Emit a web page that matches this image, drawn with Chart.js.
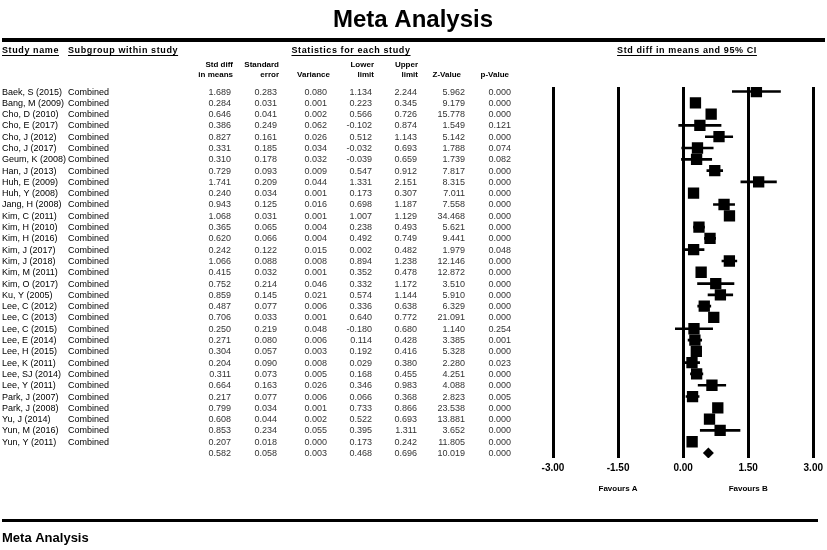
<!DOCTYPE html>
<html><head><meta charset="utf-8">
<script src="https://cdn.jsdelivr.net/npm/chart.js@4.4.1/dist/chart.umd.min.js"></script>
<style>html,body{margin:0;padding:0;background:#fff;}canvas{display:block;}</style>
</head><body>
<canvas id="c" width="827" height="550"></canvas>
<script>
const studies = ['Baek, S (2015)','Bang, M (2009)','Cho, D (2010)','Cho, E (2017)','Cho, J (2012)','Cho, J (2017)','Geum, K (2008)','Han, J (2013)','Huh, E (2009)','Huh, Y (2008)','Jang, H (2008)','Kim, C (2011)','Kim, H (2010)','Kim, H (2016)','Kim, J (2017)','Kim, J (2018)','Kim, M (2011)','Kim, O (2017)','Ku, Y (2005)','Lee, C (2012)','Lee, C (2013)','Lee, C (2015)','Lee, E (2014)','Lee, H (2015)','Lee, K (2011)','Lee, SJ (2014)','Lee, Y (2011)','Park, J (2007)','Park, J (2008)','Yu, J (2014)','Yun, M (2016)','Yun, Y (2011)'];
const subgroups = studies.map(() => 'Combined');
const stdDiff  = [1.689,0.284,0.646,0.386,0.827,0.331,0.310,0.729,1.741,0.240,0.943,1.068,0.365,0.620,0.242,1.066,0.415,0.752,0.859,0.487,0.706,0.250,0.271,0.304,0.204,0.311,0.664,0.217,0.799,0.608,0.853,0.207];
const stdErr   = [0.283,0.031,0.041,0.249,0.161,0.185,0.178,0.093,0.209,0.034,0.125,0.031,0.065,0.066,0.122,0.088,0.032,0.214,0.145,0.077,0.033,0.219,0.080,0.057,0.090,0.073,0.163,0.077,0.034,0.044,0.234,0.018];
const variance = [0.080,0.001,0.002,0.062,0.026,0.034,0.032,0.009,0.044,0.001,0.016,0.001,0.004,0.004,0.015,0.008,0.001,0.046,0.021,0.006,0.001,0.048,0.006,0.003,0.008,0.005,0.026,0.006,0.001,0.002,0.055,0.000];
const lowerLim = [1.134,0.223,0.566,-0.102,0.512,-0.032,-0.039,0.547,1.331,0.173,0.698,1.007,0.238,0.492,0.002,0.894,0.352,0.332,0.574,0.336,0.640,-0.180,0.114,0.192,0.029,0.168,0.346,0.066,0.733,0.522,0.395,0.173];
const upperLim = [2.244,0.345,0.726,0.874,1.143,0.693,0.659,0.912,2.151,0.307,1.187,1.129,0.493,0.749,0.482,1.238,0.478,1.172,1.144,0.638,0.772,0.680,0.428,0.416,0.380,0.455,0.983,0.368,0.866,0.693,1.311,0.242];
const zValue   = [5.962,9.179,15.778,1.549,5.142,1.788,1.739,7.817,8.315,7.011,7.558,34.468,5.621,9.441,1.979,12.146,12.872,3.510,5.910,6.329,21.091,1.140,3.385,5.328,2.280,4.251,4.088,2.823,23.538,13.881,3.652,11.805];
const pValue   = [0.000,0.000,0.000,0.121,0.000,0.074,0.082,0.000,0.000,0.000,0.000,0.000,0.000,0.000,0.048,0.000,0.000,0.000,0.000,0.000,0.000,0.254,0.001,0.000,0.023,0.000,0.000,0.005,0.000,0.000,0.000,0.000];
const summaryStats = [0.582,0.058,0.003,0.468,0.696,10.019,0.000];
const xTicks = [-3,-1.5,0,1.5,3];
const favours = ['Favours A','Favours B'];

const FONT = 'Arial, "Liberation Sans", sans-serif';
const nRows = studies.length + 1;
const summaryRow = studies.length;

const numCols = [stdDiff, stdErr, variance, lowerLim, upperLim, zValue, pValue];
const numRight = [231, 277, 327, 372, 417, 465, 511];

const textPlugin = {
  id: 'forestText',
  afterDraw(chart) {
    const ctx = chart.ctx;
    const ys = chart.scales.y;
    const xs = chart.scales.x;
    ctx.save();
    ctx.fillStyle = '#000';
    ctx.textBaseline = 'alphabetic';
    ctx.font = 'bold 24px ' + FONT;
    ctx.textAlign = 'center';
    ctx.fillText('Meta Analysis', 413, 27);
    ctx.fillRect(2, 38, 823, 4);
    ctx.fillRect(2, 519, 816, 3);
    ctx.font = 'bold 13px ' + FONT;
    ctx.textAlign = 'left';
    ctx.fillText('Meta Analysis', 2, 542);

    ctx.font = 'bold 9px ' + FONT;
    if ('letterSpacing' in ctx) ctx.letterSpacing = '0.6px';
    const under = (txt, x, y, align) => {
      const w = ctx.measureText(txt).width;
      const x0 = align === 'center' ? x - w / 2 : x;
      ctx.textAlign = 'left';
      ctx.fillText(txt, x0, y);
      ctx.fillRect(x0, y + 2, w, 1);
    };
    under('Study name', 2, 53, 'left');
    under('Subgroup within study', 68, 53, 'left');
    under('Statistics for each study', 351, 53, 'center');
    under('Std diff in means and 95% CI', 687, 53, 'center');
    if ('letterSpacing' in ctx) ctx.letterSpacing = '0px';

    ctx.font = 'bold 8px ' + FONT;
    ctx.textAlign = 'right';
    const h1 = ['Std diff','Standard','','Lower','Upper','',''];
    const h2 = ['in means','error','Variance','limit','limit','Z-Value','p-Value'];
    const hr = [233, 279, 330, 374, 418, 461, 509];
    for (let i = 0; i < 7; i++) {
      if (h1[i]) ctx.fillText(h1[i], hr[i], 67);
      ctx.fillText(h2[i], hr[i], 77);
    }

    for (let r = 0; r < nRows; r++) {
      const y = ys.getPixelForValue(r) + 3;
      ctx.font = '9px ' + FONT;
      ctx.fillStyle = '#000';
      ctx.textAlign = 'left';
      if (r < studies.length) {
        ctx.fillText(studies[r], 2, y);
        ctx.fillText(subgroups[r], 68, y);
      }
      ctx.fillStyle = '#333';
      ctx.textAlign = 'right';
      for (let c = 0; c < 7; c++) {
        const v = r < studies.length ? numCols[c][r] : summaryStats[c];
        ctx.fillText(v.toFixed(3), numRight[c], y);
      }
    }

    ctx.fillStyle = '#000';
    ctx.font = 'bold 8px ' + FONT;
    ctx.textAlign = 'center';
    ctx.fillText(favours[0], xs.getPixelForValue(-1.5), 491);
    ctx.fillText(favours[1], xs.getPixelForValue(1.5), 491);
    ctx.restore();
  }
};

const rowIdx = studies.map((_, i) => i);

new Chart(document.getElementById('c'), {
  type: 'scatter',
  data: {
    datasets: [
      {
        type: 'bar',
        indexAxis: 'y',
        data: rowIdx.map(i => ({ y: i, x: [lowerLim[i], upperLim[i]] })),
        backgroundColor: '#000',
        borderWidth: 0,
        barThickness: 2,
        grouped: false,
        order: 3
      },
      {
        type: 'scatter',
        data: rowIdx.map(i => ({ x: stdDiff[i], y: i })),
        pointStyle: 'rect',
        radius: 8,
        backgroundColor: '#000',
        borderWidth: 0,
        order: 2
      },
      {
        type: 'scatter',
        data: [{ x: summaryStats[0], y: summaryRow }],
        pointStyle: 'rectRot',
        radius: 5.5,
        backgroundColor: '#000',
        borderWidth: 0,
        order: 1
      }
    ]
  },
  options: {
    responsive: false,
    animation: false,
    devicePixelRatio: 1,
    layout: { padding: { left: 553, right: 11, top: 87, bottom: 72 } },
    plugins: { legend: { display: false }, tooltip: { enabled: false }, title: { display: false } },
    scales: {
      x: {
        type: 'linear',
        min: -3, max: 3,
        offset: false,
        afterBuildTicks(s) { s.ticks = xTicks.map(v => ({ value: v })); },
        afterFit(s) { s.height = 20; },
        ticks: {
          autoSkip: false,
          maxRotation: 0,
          padding: 4,
          color: '#000',
          font: { family: FONT, size: 10, weight: 'bold' },
          callback: v => Number(v).toFixed(2)
        },
        grid: { color: '#000', lineWidth: 3, drawTicks: false, offset: false },
        border: { display: false }
      },
      y: {
        type: 'linear',
        display: false,
        reverse: true,
        offset: false,
        grid: { offset: false },
        min: -0.4,
        max: 32.44
      }
    }
  },
  plugins: [textPlugin]
});
</script>
</body></html>
